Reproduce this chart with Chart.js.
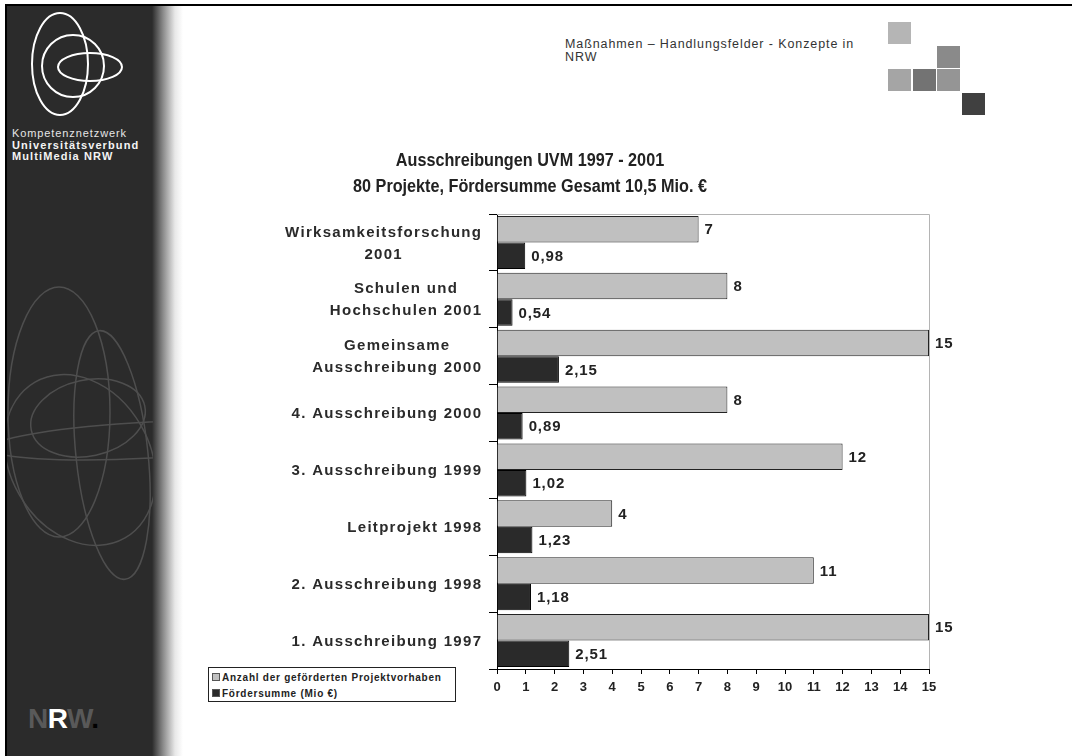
<!DOCTYPE html>
<html lang="de">
<head>
<meta charset="utf-8">
<title>Ausschreibungen UVM 1997 - 2001</title>
<script src="https://cdn.jsdelivr.net/npm/chart.js@4.4.1/dist/chart.umd.min.js"></script>
<style>
    body { margin: 0; width: 1072px; height: 756px; background: #fff; overflow: hidden; position: relative; font-family: "Liberation Sans", Arial, sans-serif; }
    .abs { position: absolute; }
    #frameTop { left: 5px; top: 4px; width: 1067px; height: 2px; background: #000; }
    #frameLeft { left: 5px; top: 4px; width: 2px; height: 752px; background: #000; }
    #sidebar { left: 7px; top: 6px; width: 178px; height: 750px;
        background: linear-gradient(to right, #2b2b2b 0, #2b2b2b 145px, #8a8a8a 156px, #e8e8e8 168px, #fff 176px); }
    #sideText { left: 12px; top: 128px; color: #e6e6e6; font-size: 11px; line-height: 11.5px; letter-spacing: 0.9px; }
    #sideText b { color: #f4f4f4; letter-spacing: 1.1px; }
    #nrw { left: 28px; top: 703px; font-size: 28px; font-weight: bold; letter-spacing: -0.5px; }
    #header { left: 565px; top: 38px; font-size: 12.5px; line-height: 13px; color: #333; letter-spacing: 0.9px; }
    .sq { width: 23px; height: 22px; }
    #chartBox { left: 95px; top: 125px; width: 870px; height: 600px; }
    #legend { left: 208px; top: 667px; width: 248px; height: 35px; border: 1px solid #222; background: #fff;
        font-size: 10px; font-weight: bold; color: #222; letter-spacing: 0.75px; box-sizing: border-box; padding: 3px 0 0 3px; }
    #legend div { height: 16px; line-height: 14px; white-space: nowrap; }
    #legend span.box { display: inline-block; width: 6px; height: 6px; border: 1px solid #555; margin-right: 2px; vertical-align: 0px; }
</style>
</head>
<body>
<div id="frameTop" class="abs"></div>
<div id="frameLeft" class="abs"></div>
<div id="sidebar" class="abs"></div>

<svg class="abs" style="left:0;top:0" width="180" height="756">
    <defs>
        <clipPath id="sideClip"><rect x="7" y="6" width="146" height="750"/></clipPath>
    </defs>
    <!-- logo -->
    <g fill="none" stroke="#fff" stroke-width="2">
        <ellipse cx="60" cy="64" rx="28" ry="51"/>
        <ellipse cx="73" cy="66" rx="31" ry="31"/>
        <ellipse cx="90" cy="67" rx="32" ry="14"/>
    </g>
    <!-- faint background rings -->
    <g fill="none" stroke="#4e4e4e" stroke-width="1.5" clip-path="url(#sideClip)">
        <ellipse cx="59" cy="412" rx="51" ry="125"/>
        <ellipse cx="112" cy="455" rx="36" ry="125" transform="rotate(-6 112 455)"/>
        <ellipse cx="88" cy="418" rx="58" ry="38" transform="rotate(-12 88 418)"/>
        <ellipse cx="80" cy="460" rx="70" ry="90" transform="rotate(-30 80 460)"/>
        <ellipse cx="150" cy="440" rx="160" ry="18" transform="rotate(-3 150 440)"/>
    </g>
</svg>

<div id="sideText" class="abs">Kompetenznetzwerk<br><b>Universitätsverbund</b><br><b>MultiMedia NRW</b></div>
<div id="nrw" class="abs"><span style="color:#595959">N</span><span style="color:#fff">R</span><span style="color:#595959">W</span><span style="color:#000">.</span></div>

<div id="header" class="abs">Maßnahmen – Handlungsfelder - Konzepte in<br>NRW</div>
<div class="abs sq" style="left:888px;top:22px;background:#b5b5b5"></div>
<div class="abs sq" style="left:937px;top:46px;background:#8a8a8a"></div>
<div class="abs sq" style="left:888px;top:69px;background:#a5a5a5"></div>
<div class="abs sq" style="left:913px;top:69px;background:#737373"></div>
<div class="abs sq" style="left:937px;top:69px;background:#959595"></div>
<div class="abs sq" style="left:962px;top:93px;background:#404040"></div>

<div id="chartBox" class="abs"><canvas id="uvmChart" width="870" height="600"></canvas></div>
<div id="legend" class="abs"></div>

<script>
// Chart data
const categories = [
    ['Wirksamkeitsforschung', '2001'],
    ['Schulen und', 'Hochschulen 2001'],
    ['Gemeinsame', 'Ausschreibung 2000'],
    ['4. Ausschreibung 2000'],
    ['3. Ausschreibung 1999'],
    ['Leitprojekt 1998'],
    ['2. Ausschreibung 1998'],
    ['1. Ausschreibung 1997']
];
const projectCounts = [7, 8, 15, 8, 12, 4, 11, 15];
const fundingMio = [0.98, 0.54, 2.15, 0.89, 1.02, 1.23, 1.18, 2.51];
const seriesNames = ['Anzahl der geförderten Projektvorhaben', 'Fördersumme (Mio €)'];
const titleLines = ['Ausschreibungen UVM 1997 - 2001', '80 Projekte, Fördersumme Gesamt 10,5 Mio. €'];
const xMin = 0, xMax = 15, xStep = 1;

const sansFamily = '"Liberation Sans", Arial, sans-serif';

// Condensed bold title (Arial Narrow look), centred on the canvas
const narrowTitle = {
    id: 'narrowTitle',
    afterDraw(chart) {
        const { ctx, width } = chart;
        ctx.save();
        ctx.font = 'bold 18px ' + sansFamily;
        ctx.fillStyle = '#222';
        ctx.textAlign = 'center';
        ctx.textBaseline = 'middle';
        ctx.translate(width / 2, 0);
        ctx.scale(0.9, 1);
        titleLines.forEach((t, i) => ctx.fillText(t, 0, 36 + i * 26));
        ctx.restore();
    }
};

// Top and right edge of the plot area in light grey
const plotFrame = {
    id: 'plotFrame',
    beforeDatasetsDraw(chart) {
        const { ctx, chartArea: a } = chart;
        ctx.save();
        ctx.strokeStyle = '#b4b4b4';
        ctx.lineWidth = 1;
        ctx.beginPath();
        ctx.moveTo(a.left, a.top + 0.5);
        ctx.lineTo(a.right + 0.5, a.top + 0.5);
        ctx.lineTo(a.right + 0.5, a.bottom);
        ctx.stroke();
        ctx.restore();
    }
};

// Category labels: block right aligned, lines centred within the block
const categoryLabels = {
    id: 'categoryLabels',
    afterDraw(chart) {
        const { ctx } = chart;
        const yScale = chart.scales.y;
        const right = chart.chartArea.left - 16;
        const spacing = 1.3;
        ctx.save();
        ctx.font = 'bold 15px ' + sansFamily;
        ctx.letterSpacing = spacing + 'px';
        ctx.fillStyle = '#2a2a2a';
        ctx.textAlign = 'center';
        ctx.textBaseline = 'middle';
        chart.data.labels.forEach((lines, i) => {
            const cy = yScale.getPixelForValue(i) + 1;
            const widths = lines.map(l => ctx.measureText(l).width - spacing);
            const blockW = Math.max(...widths);
            const cx = right - blockW / 2;
            const lh = 22;
            lines.forEach((l, j) => {
                const y = cy + (j - (lines.length - 1) / 2) * lh;
                ctx.fillText(l, cx + spacing / 2, y);
            });
        });
        ctx.restore();
    }
};

// Values at the end of each bar
const valueLabels = {
    id: 'valueLabels',
    afterDatasetsDraw(chart) {
        const { ctx } = chart;
        ctx.save();
        ctx.font = 'bold 15px ' + sansFamily;
        ctx.letterSpacing = '0.9px';
        ctx.fillStyle = '#222';
        ctx.textAlign = 'left';
        ctx.textBaseline = 'middle';
        chart.data.datasets.forEach((ds, di) => {
            chart.getDatasetMeta(di).data.forEach((bar, i) => {
                const txt = ds.data[i].toLocaleString('de-DE');
                ctx.fillText(txt, bar.x + 6, bar.y + 1);
            });
        });
        ctx.restore();
    }
};

const chart = new Chart(document.getElementById('uvmChart'), {
    type: 'bar',
    data: {
        labels: categories,
        datasets: [
            {
                label: seriesNames[0],
                data: projectCounts,
                backgroundColor: '#c0c0c0',
                borderColor: '#222',
                borderWidth: 1,
                borderSkipped: 'left'
            },
            {
                label: seriesNames[1],
                data: fundingMio,
                backgroundColor: '#2a2a2a',
                borderColor: '#000',
                borderWidth: 1,
                borderSkipped: 'left'
            }
        ]
    },
    options: {
        indexAxis: 'y',
        responsive: false,
        animation: false,
        devicePixelRatio: 1,
        categoryPercentage: 0.93,
        barPercentage: 1.0,
        layout: { padding: { left: 0, right: 36, top: 89, bottom: 0 } },
        plugins: {
            legend: { display: false },
            tooltip: { enabled: false },
            title: { display: false }
        },
        scales: {
            x: {
                min: xMin,
                max: xMax,
                ticks: {
                    stepSize: xStep,
                    color: '#222',
                    padding: 6,
                    font: { family: sansFamily, size: 13, weight: 'bold' }
                },
                grid: { drawOnChartArea: false, drawTicks: true, tickLength: 5, color: '#000' },
                border: { color: '#000', width: 1 },
                afterFit(s) { s.height = 56; }
            },
            y: {
                ticks: { display: false },
                grid: { drawOnChartArea: false, drawTicks: true, tickLength: 8, color: '#000', offset: true },
                border: { color: '#000', width: 1 },
                afterFit(s) { s.width = 402; }
            }
        }
    },
    plugins: [plotFrame, categoryLabels, valueLabels, narrowTitle]
});

// HTML legend in the lower left box
const legendEl = document.getElementById('legend');
chart.data.datasets.forEach(ds => {
    const row = document.createElement('div');
    const box = document.createElement('span');
    box.className = 'box';
    box.style.background = ds.backgroundColor;
    row.appendChild(box);
    row.appendChild(document.createTextNode(ds.label));
    legendEl.appendChild(row);
});
</script>
</body>
</html>
